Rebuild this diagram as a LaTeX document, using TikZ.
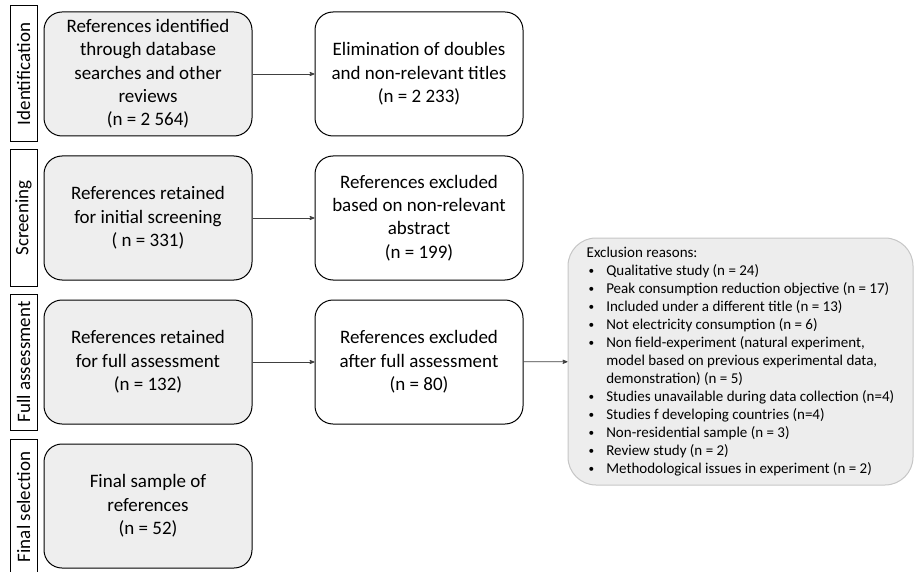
\documentclass[tikz,border=0pt]{standalone}
\usepackage{fontspec}
\setmainfont{Carlito}
\usetikzlibrary{arrows}

\newcommand{\blt}{\hspace{2pt}\raisebox{0.5pt}{\scalebox{0.75}{\textbullet}}}

\begin{document}
\begin{tikzpicture}[->,>=stealth',x=1pt,y=-1pt,node distance=144pt,
                    ref/.style={draw,line width=1pt,rounded corners=18pt,minimum width=208pt,
                                minimum height=124pt,align=center,inner sep=2pt,
                                font=\fontsize{19}{23.3}\selectfont},
                    kept/.style={ref,fill=gray!13},
                    phase/.style={draw,line width=1pt,rotate=90,minimum width=136pt,
                                  minimum height=27pt,inner sep=0pt,
                                  font=\fontsize{19}{23}\selectfont},
                    excl/.style={draw=gray!45,fill=gray!14,line width=1pt,rounded corners=28pt,
                                 minimum width=345pt,minimum height=247pt,inner sep=0pt,
                                 font=\fontsize{15}{18}\selectfont},
                    every edge/.style={draw,line width=0.8pt,black!75}]

  \useasboundingbox (0,0) rectangle (915,572);

  	\node[kept] (ident) at (148,74)            {References identified\\through database\\searches and other\\reviews\\(n = 2 564)};
  	\node[kept] (screen) [below of=ident]      {References retained\\for initial screening\\( n = 331)};
  	\node[kept] (full)   [below of=screen]     {References retained\\for full assessment\\(n = 132)};
  	\node[kept] (final)  [below of=full]       {Final sample of\\references\\(n = 52)};

  	\node[ref] (doubles)  [right of=ident, node distance=271pt]  {Elimination of doubles\\and non-relevant titles\\(n = 2 233)};
  	\node[ref] (abstract) [right of=screen, node distance=271pt] {References excluded\\based on non-relevant\\abstract\\(n = 199)};
  	\node[ref] (assess)   [right of=full, node distance=271pt]   {References excluded\\after full assessment\\(n = 80)};

  	\node[phase] (pIdent)  at (23.5,74)  {Identification};
  	\node[phase] (pScreen) at (23.5,218) {Screening};
  	\node[phase] (pFull)   at (23.5,362) {Full assessment};
  	\node[phase] (pFinal)  at (23.5,507) {Final selection};

  	\node[excl] (reasons) at (740.5,361.5) {%
  	  \begin{tabular}{@{}l@{\hspace{12pt}}l@{}}
  	  \multicolumn{2}{@{}l}{Exclusion reasons:}\\
  	  \blt & Qualitative study (n = 24)\\
  	  \blt & Peak consumption reduction objective (n = 17)\\
  	  \blt & Included under a different title (n = 13)\\
  	  \blt & Not electricity consumption (n = 6)\\
  	  \blt & Non field-experiment (natural experiment,\\
  	       & model based on previous experimental data,\\
  	       & demonstration) (n = 5)\\
  	  \blt & Studies unavailable during data collection (n=4)\\
  	  \blt & Studies f developing countries (n=4)\\
  	  \blt & Non-residential sample (n = 3)\\
  	  \blt & Review study (n = 2)\\
  	  \blt & Methodological issues in experiment (n = 2)
  	  \end{tabular}};

  	\path (ident)  edge (doubles);
  	\path (screen) edge (abstract);
  	\path (full)   edge (assess);
  	\path (assess) edge (reasons);

\end{tikzpicture}
\end{document}
